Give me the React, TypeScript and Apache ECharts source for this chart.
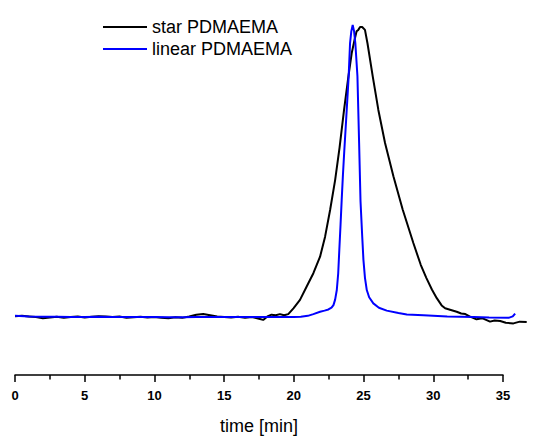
import React, { useEffect, useRef } from "react";
import * as echarts from "echarts";

const starName = "star PDMAEMA";
const linearName = "linear PDMAEMA";

const xTicks = [0, 5, 10, 15, 20, 25, 30, 35];

const starTime = [
  0, 0.5, 1, 1.5, 2, 2.5, 3, 3.5, 4, 4.5, 5, 5.5, 6, 6.5, 7, 7.5, 8, 8.5, 9, 9.5,
  10, 10.5, 11, 11.5, 12, 12.5, 13, 13.5, 14, 14.5, 15, 15.5, 16, 16.5, 17, 17.5,
  17.8, 18.1, 18.4, 18.7, 19, 19.3, 19.6, 19.97, 20.44, 20.92, 21.4, 21.88, 22.24,
  22.6, 22.96, 23.28, 23.6, 23.91, 24.15, 24.35, 24.5, 24.62, 24.75, 24.9, 25.1,
  25.28, 25.66, 26.06, 26.54, 27.14, 27.81, 28.57, 29.1, 29.5, 29.9, 30.25, 30.6,
  30.85, 31.2, 31.68, 32.0, 32.3, 32.6, 33.1, 33.5, 34.07, 34.4, 34.8, 35.2, 35.75,
  36.2, 36.7,
];
const starSignal = [
  0.003, 0.004, 0.002, 0, -0.004, -0.002, 0.001, -0.003, 0, 0.002, -0.002, 0.001,
  0.003, 0.002, 0, 0.002, -0.003, -0.001, 0.001, -0.002, 0, -0.003, -0.004, -0.001,
  -0.003, 0.002, 0.008, 0.01, 0.006, 0.002, 0, -0.002, 0.001, -0.003, 0, -0.006,
  -0.01, 0.002, 0.008, 0.006, 0.01, 0.006, 0.01, 0.03, 0.059, 0.105, 0.151, 0.208,
  0.277, 0.369, 0.472, 0.585, 0.714, 0.829, 0.91, 0.955, 0.985, 0.99, 1.0, 1.0,
  0.99, 0.944, 0.829, 0.714, 0.6, 0.485, 0.37, 0.255, 0.18, 0.135, 0.095, 0.065,
  0.04, 0.03, 0.025, 0.018, 0.012, 0.01, 0.002, -0.008, -0.004, -0.016, -0.012,
  -0.014, -0.02, -0.022, -0.016, -0.017,
];

const linearTime = [
  0, 1, 2, 3, 4, 5, 6, 7, 8, 9, 10, 11, 12, 13, 14, 15, 16, 17, 18, 19, 20, 20.5,
  21, 21.4, 21.88, 22.2, 22.48, 22.7, 22.84, 22.96, 23.08, 23.18, 23.26, 23.35,
  23.43, 23.52, 23.62, 23.75, 23.93, 24.03, 24.12, 24.22, 24.32, 24.41, 24.56,
  24.68, 24.78, 24.9, 24.99, 25.1, 25.23, 25.4, 25.7, 26.1, 26.66, 27.5, 28.1, 29.3,
  31, 32.9, 34, 35.4, 35.7, 35.87,
];
const linearSignal = [
  0.004, 0.002, 0.001, 0.001, 0, 0, 0.001, 0, 0, 0, 0, -0.001, -0.001, 0, 0, 0, 0,
  0, 0, 0, 0, 0.001, 0.004, 0.01, 0.018, 0.022, 0.026, 0.032, 0.041, 0.06, 0.093,
  0.15, 0.231, 0.32, 0.403, 0.49, 0.576, 0.68, 0.829, 0.944, 0.985, 1.007, 0.985,
  0.944, 0.83, 0.6, 0.4, 0.28, 0.197, 0.135, 0.093, 0.068, 0.047, 0.032, 0.022,
  0.014, 0.009, 0.006, 0.002, 0, -0.002, -0.003, 0.002, 0.012,
];

const zip = (xs: number[], ys: number[]) => xs.map((x, i) => [x, ys[i]]);

export default function App() {
  const ref = useRef<HTMLDivElement>(null);
  useEffect(() => {
    document.body.style.margin = "0";
    if (!ref.current) return;
    const chart = echarts.init(ref.current, null, { renderer: "svg" });
    const font = "'Liberation Sans', Arial, sans-serif";
    const W = 550;
    const gridLeft = 15;
    const gridRight = 47;
    const axisMax = 35;
    const dataMax = 37;
    const pxPerMin = (W - gridLeft - gridRight) / axisMax;
    const dataRight = W - gridLeft - dataMax * pxPerMin;
    const yRange = { min: -0.2, max: 1.05 };
    chart.setOption({
      animation: false,
      backgroundColor: "#ffffff",
      grid: [
        { left: gridLeft, right: gridRight, top: 12.5, bottom: 69 },
        { left: gridLeft, right: dataRight, top: 12.5, bottom: 69 },
      ],
      legend: {
        orient: "vertical",
        left: 98,
        top: 11,
        itemWidth: 44,
        itemHeight: 2,
        itemGap: 0,
        icon: "rect",
        data: [starName, linearName],
        textStyle: {
          fontFamily: font,
          fontSize: 18,
          lineHeight: 22,
          color: "#000",
        },
      },
      xAxis: [
        {
          type: "value",
          gridIndex: 0,
          min: 0,
          max: axisMax,
          interval: 5,
          name: "time [min]",
          nameLocation: "middle",
          nameGap: 42,
          nameTextStyle: { fontFamily: font, fontSize: 18, color: "#000" },
          axisLine: { show: true, onZero: false, lineStyle: { color: "#000", width: 1.5 } },
          axisTick: { show: true, length: 7, lineStyle: { color: "#000", width: 1.5 } },
          minorTick: { show: true, splitNumber: 2, length: 4.5, lineStyle: { color: "#000", width: 1.5 } },
          splitLine: { show: false },
          axisLabel: {
            margin: 14,
            fontFamily: font,
            fontSize: 13,
            fontWeight: "bold",
            color: "#000",
            customValues: xTicks,
          },
        },
        {
          type: "value",
          gridIndex: 1,
          min: 0,
          max: dataMax,
          show: false,
          splitLine: { show: false },
        },
      ],
      yAxis: [
        { type: "value", gridIndex: 0, ...yRange, show: false, splitLine: { show: false } },
        { type: "value", gridIndex: 1, ...yRange, show: false, splitLine: { show: false } },
      ],
      series: [
        {
          name: starName,
          type: "line",
          xAxisIndex: 1,
          yAxisIndex: 1,
          data: zip(starTime, starSignal),
          showSymbol: false,
          symbol: "none",
          clip: false,
          color: "#000000",
          lineStyle: { color: "#000000", width: 2 },
        },
        {
          name: linearName,
          type: "line",
          xAxisIndex: 1,
          yAxisIndex: 1,
          data: zip(linearTime, linearSignal),
          showSymbol: false,
          symbol: "none",
          clip: false,
          color: "#0000ff",
          lineStyle: { color: "#0000ff", width: 2 },
        },
      ],
    });
    return () => chart.dispose();
  }, []);
  return <div ref={ref} style={{ width: 550, height: 444 }} />;
}
